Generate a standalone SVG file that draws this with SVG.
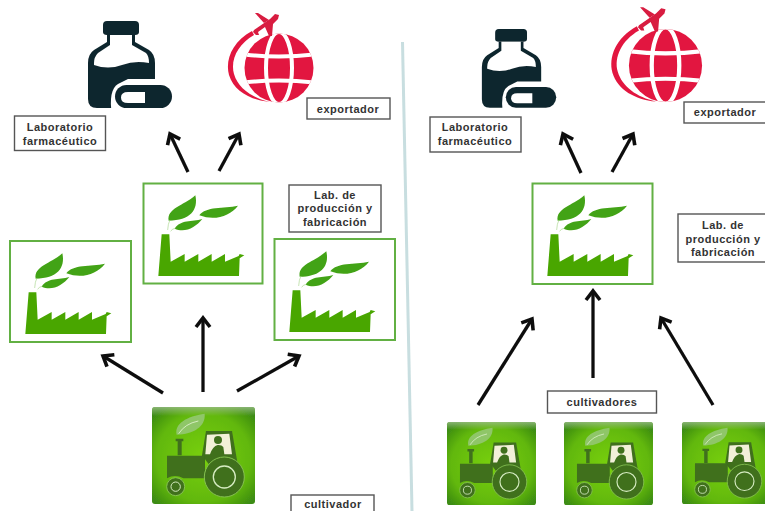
<svg xmlns="http://www.w3.org/2000/svg" width="765" height="511" viewBox="0 0 765 511">
<style>
.lab rect{fill:#fff;stroke:#555;stroke-width:1.4}
.lab text{font-family:"Liberation Sans",Arial,sans-serif;font-weight:700;font-size:11px;letter-spacing:.5px;fill:#333;text-anchor:middle}
.fbox{fill:#fff;stroke:#62b043;stroke-width:2}
.arr{stroke:#0c0c0c;stroke-width:3.3;fill:none;marker-end:url(#head)}
</style>
<defs>
<filter id="soft" x="-5%" y="-5%" width="110%" height="110%"><feGaussianBlur stdDeviation="0.45"/></filter>
<marker id="head" markerUnits="userSpaceOnUse" markerWidth="24" markerHeight="24" refX="13" refY="12" orient="auto" viewBox="0 0 24 24"><path d="M4,5 L13,12 L4,19" fill="none" stroke="#0c0c0c" stroke-width="3.6"/></marker>
<radialGradient id="tileg" cx="50%" cy="52%" r="65%"><stop offset="0" stop-color="#78d010"/><stop offset=".7" stop-color="#62b80f"/><stop offset="1" stop-color="#3c8c12"/></radialGradient>
<linearGradient id="tilet" x1="0" y1="0" x2="0" y2="1"><stop offset="0" stop-color="#a9c59a" stop-opacity=".7"/><stop offset="1" stop-color="#a9c59a" stop-opacity="0"/></linearGradient>
<clipPath id="gc"><circle cx="279" cy="68" r="34.500"/></clipPath>
<g id="bottle" filter="url(#soft)">
<path d="M107,21 H135 Q139,21 139,25 V32 Q139,35 135,35 H107 Q103,35 103,32 V25 Q103,21 107,21Z" fill="#10262e"/>
<path d="M107,35 H135 V42 L149,50 Q155,54 155,63 V90 H130 V108 H97 Q88,108 88,99 V63 Q88,54 94,50 L107,42Z" fill="#10262e"/>
<path d="M110,35 H132 V45 L146,53 Q149,56 149,63 Q135,60 122,65 Q108,70 94,65 V63 Q94,57 98,53 L110,45Z" fill="#fff"/>
<path d="M128,79 H160 V116 H112 Q108,90 118,84Z" fill="#fff"/>
<rect x="115" y="85" width="57" height="23" rx="11.500" fill="#10262e"/>
<path d="M145,92 H128 Q121,92 121,97.500 Q121,103 128,103 H145Z" fill="#fff"/>
</g>
<g id="globe" filter="url(#soft)">
<circle cx="279" cy="68" r="34.500" fill="#e2183f"/>
<g clip-path="url(#gc)" fill="none" stroke="#fff" stroke-width="4">
<ellipse cx="279" cy="68" rx="13" ry="36"/>
<path d="M240,54 Q279,59 318,54"/>
<path d="M240,83 Q279,78 318,83"/>
</g>
<path d="M252,31 C232,42 225,60 229,75 C234,91 250,100 270,102 C252,98 238,88 234,74 C230,60 238,44 254,35Z" fill="#e2183f"/>
<path d="M254,30 L270,19 L275,14 L279,15 L278,19 L273,24 L272,36 L269,36 L265,27 L258,32 L259,35 L256,35 L253,32Z" fill="#d81a3f"/>
<path d="M255,13 L258,13 L269,20 L264,23Z" fill="#d81a3f"/>
</g>
<g id="factory" filter="url(#soft)">
<path d="M55,288 L65,163 H88 L92,245 L134,222 V245 L175,222 V245 L215,222 V245 L255,222 V245 L296,228 L299,222 L313,226 L299,235 L297,288Z" fill="#48a602"/>
<path d="M86,122 C80,85 130,78 166,46 C176,90 150,122 86,122Z" fill="#43a316"/>
<path d="M178,106 C198,78 250,86 294,77 C270,108 225,124 178,106Z" fill="#43a316"/>
<path d="M104,146 C122,118 155,126 187,117 C167,142 135,160 104,146Z" fill="#43a316"/>
<path d="M83,150 Q84,130 90,120 M92,154 Q96,146 106,145" fill="none" stroke="#a9d68e" stroke-width="2"/>
</g>
<g id="tile">
<rect x="0" y="0" width="103" height="97" rx="3" fill="url(#tileg)" filter="url(#soft)"/>
<rect x="0" y="0" width="103" height="9" rx="3" fill="url(#tilet)"/>
<g transform="scale(.3333) translate(-66,-50)" filter="url(#soft)">
<path d="M140,133 C132,100 170,78 224,70 C228,108 190,132 140,133Z" fill="#8fc668"/>
<path d="M146,130 Q165,100 205,92" fill="none" stroke="#d5ecc0" stroke-width="3"/>
<path d="M143,195 V153 H137 V145 H160 V153 H155 V195Z" fill="#3f6f1f"/>
<path d="M216,195 L228,122 H306 L322,215 L250,240 Z" fill="#3f6f1f"/>
<path d="M231,133 L298,130 L306,192 H283 L280,170 Q275,163 263,164 Q248,168 240,192 H226Z" fill="#f2f0d8"/>
<circle cx="264" cy="149" r="12" fill="#3f6f1f"/>
<path d="M111,196 H225 V264 H160 Q135,250 111,264Z" fill="#3f6f1f"/>
<circle cx="283" cy="260" r="60" fill="#3f6f1f" stroke="#86c24f" stroke-width="3"/>
<circle cx="283" cy="260" r="33" fill="#3f6f1f" stroke="#d6ecc0" stroke-width="4"/>
<circle cx="137" cy="289" r="27" fill="#3f6f1f" stroke="#86c24f" stroke-width="3"/>
<circle cx="137" cy="289" r="14" fill="#3f6f1f" stroke="#d6ecc0" stroke-width="3"/>
</g>
</g>
</defs>
<rect width="765" height="511" fill="#fff"/>
<path id="divider" d="M402.500,42 L412,511" stroke="#c8dee0" stroke-width="3" fill="none"/>
<g id="connectors" filter="url(#soft)">
<path class="arr" d="M188,172 L170,134"/>
<path class="arr" d="M219,171 L239,134"/>
<path class="arr" d="M163,393 L103,356"/>
<path class="arr" d="M203,392 V318"/>
<path class="arr" d="M237,391 L299,356"/>
<path class="arr" d="M581,173 L563,134"/>
<path class="arr" d="M612,172 L633,134"/>
<path class="arr" d="M478,405 L532,319"/>
<path class="arr" d="M593,378 V291"/>
<path class="arr" d="M713,405 L661,318"/>
</g>
<g id="lab-left"><use href="#bottle"/></g>
<g id="exp-left"><use href="#globe"/></g>
<g id="lab-right"><use href="#bottle" transform="translate(404,10) scale(.885,.905)"/></g>
<g id="exp-right"><use href="#globe" transform="translate(665.500,65.500) scale(1.06) translate(-279,-68)"/></g>
<g id="fac-1"><rect class="fbox" x="10" y="241" width="121" height="101"/><use href="#factory" transform="translate(7,238) scale(.3333)"/></g>
<g id="fac-2"><rect class="fbox" x="143.500" y="183.500" width="119" height="100"/><use href="#factory" transform="translate(140,180) scale(.3333)"/></g>
<g id="fac-3"><rect class="fbox" x="274.500" y="239" width="120.500" height="101"/><use href="#factory" transform="translate(271,236) scale(.3333)"/></g>
<g id="fac-4"><rect class="fbox" x="532.500" y="183.500" width="120" height="100.500"/><use href="#factory" transform="translate(529,180) scale(.3333)"/></g>
<g id="tractor-1"><use href="#tile" transform="translate(152,407)"/></g>
<g id="tractor-2"><use href="#tile" transform="translate(447,422) scale(.864,.856)"/></g>
<g id="tractor-3"><use href="#tile" transform="translate(564,422) scale(.864,.856)"/></g>
<g id="tractor-4"><use href="#tile" transform="translate(682,422) scale(.864,.846)"/></g>
<g id="t1" class="lab"><rect x="14.500" y="116" width="91" height="34.500"/><text x="60" y="131">Laboratorio</text><text x="60" y="145">farmacéutico</text></g>
<g id="t2" class="lab"><rect x="307" y="98" width="83" height="21"/><text x="348" y="113">exportador</text></g>
<g id="t3" class="lab"><rect x="289" y="185" width="92" height="47"/><text x="335" y="199">Lab. de</text><text x="335" y="212">producción y</text><text x="335" y="226">fabricación</text></g>
<g id="t4" class="lab"><rect x="291" y="495" width="83" height="20"/><text x="333" y="508">cultivador</text></g>
<g id="t5" class="lab"><rect x="430" y="117" width="91" height="35"/><text x="475" y="131">Laboratorio</text><text x="475" y="145">farmacéutico</text></g>
<g id="t6" class="lab"><rect x="684" y="102" width="85" height="21"/><text x="725" y="116">exportador</text></g>
<g id="t7" class="lab"><rect x="678" y="214" width="92" height="48"/><text x="723" y="229">Lab. de</text><text x="723" y="243">producción y</text><text x="723" y="256">fabricación</text></g>
<g id="t8" class="lab"><rect x="547.500" y="391" width="109" height="22"/><text x="602" y="406">cultivadores</text></g>
</svg>
